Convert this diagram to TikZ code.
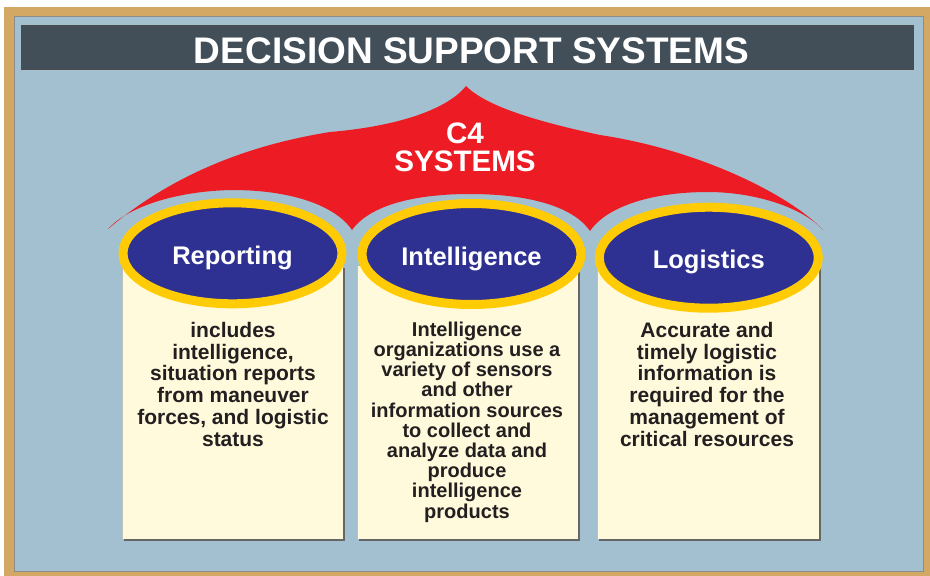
\documentclass[tikz,border=0pt]{standalone}
\usepackage{fontspec}
\setmainfont{Liberation Sans}
\usetikzlibrary{shapes.geometric}
\definecolor{tanc}{HTML}{D3A865}
\definecolor{panel}{HTML}{A2C0D0}
\definecolor{hdr}{HTML}{424F59}
\definecolor{redc}{HTML}{ED1C24}
\definecolor{ylw}{HTML}{FFCB05}
\definecolor{dblue}{HTML}{2E3192}
\definecolor{cream}{HTML}{FFFADC}
\definecolor{ink}{HTML}{231F20}
\tikzset{
  ell/.style={ellipse, draw=ylw, line width=9pt, fill=dblue, minimum width=219pt, minimum height=101pt,
    inner sep=0pt, text=white, font=\bfseries\fontsize{25.5}{27}\selectfont, text height=22pt, text depth=0pt},
  boxtext/.style={anchor=north, align=center, inner sep=0pt, text=ink},
  shadowc/.style={fill=black!60},
}
\begin{document}
\begin{tikzpicture}[x=1pt,y=-1pt]
\useasboundingbox (0,0) rectangle (930,576);
\fill[white] (0,0) rectangle (930,576);
% frame and panel
\fill[tanc] (4,7) rectangle (930,576);
\filldraw[fill=panel, draw=black!45, line width=0.8pt] (14,16.7) rectangle (923,571);
% header
\filldraw[fill=hdr, draw=black!70, line width=0.8pt] (21.3,25.3) rectangle (913,69.3);
\node[anchor=base, text=white, font=\bfseries\fontsize{37}{40}\selectfont, inner sep=0pt] (title) at (471.5,63) {DECISION SUPPORT SYSTEMS};
% red C4 shape
\fill[redc] (108,229) .. controls (160,185) and (230,148) .. (330,132)
  .. controls (390,127) and (445,112) .. (466,86)
  .. controls (485,105) and (530,120) .. (600,135)
  .. controls (700,150) and (790,195) .. (823,230)
  .. controls (800,205) and (750,192) .. (708,192)
  .. controls (655,192) and (608,205) .. (590,231)
  .. controls (572,205) and (525,194) .. (470,194)
  .. controls (415,194) and (370,205) .. (352,230)
  .. controls (335,205) and (290,190) .. (232,190)
  .. controls (180,191) and (130,205) .. (108,229) -- cycle;
\node[anchor=north, align=center, inner sep=0pt, text=white, font=\bfseries\fontsize{29.6}{28.4}\selectfont] (c4) at (465,121.8) {\rule{0pt}{21.5pt}C4\\SYSTEMS};
% boxes
\fill[shadowc] (124.3,268) rectangle (345.3,541);
\fill[cream] (122.3,266) rectangle (343.3,539);
\draw[black!25, line width=0.8pt] (122.7,266) -- (122.7,539);
\fill[shadowc] (359.3,268) rectangle (580.3,541);
\fill[cream] (357.3,266) rectangle (578.3,539);
\draw[black!25, line width=0.8pt] (357.7,266) -- (357.7,539);
\fill[shadowc] (599.3,268) rectangle (821.3,541);
\fill[cream] (597.3,266) rectangle (819.3,539);
\draw[black!25, line width=0.8pt] (597.7,266) -- (597.7,539);
% ellipses
\node[ell] (rep) at (232.5,253.3) {Reporting};
\node[ell] (int) at (471.5,254) {Intelligence};
\node[ell] (log) at (708.8,257.7) {Logistics};
% box texts
\node[boxtext, font=\bfseries\fontsize{21}{21.7}\selectfont] (reptext) at (233,321.8)
  {\rule{0pt}{15.5pt}includes\\intelligence,\\situation reports\\from maneuver\\forces, and logistic\\status};
\node[boxtext, font=\bfseries\fontsize{20}{20.2}\selectfont] (inttext) at (467,321.2)
  {\rule{0pt}{14.8pt}Intelligence\\organizations use a\\variety of sensors\\and other\\information sources\\to collect and\\analyze data and\\produce\\intelligence\\products};
\node[boxtext, font=\bfseries\fontsize{21}{21.7}\selectfont] (logtext) at (707,321.8)
  {\rule{0pt}{15.5pt}Accurate and\\timely logistic\\information is\\required for the\\management of\\critical resources};
\end{tikzpicture}
\end{document}
